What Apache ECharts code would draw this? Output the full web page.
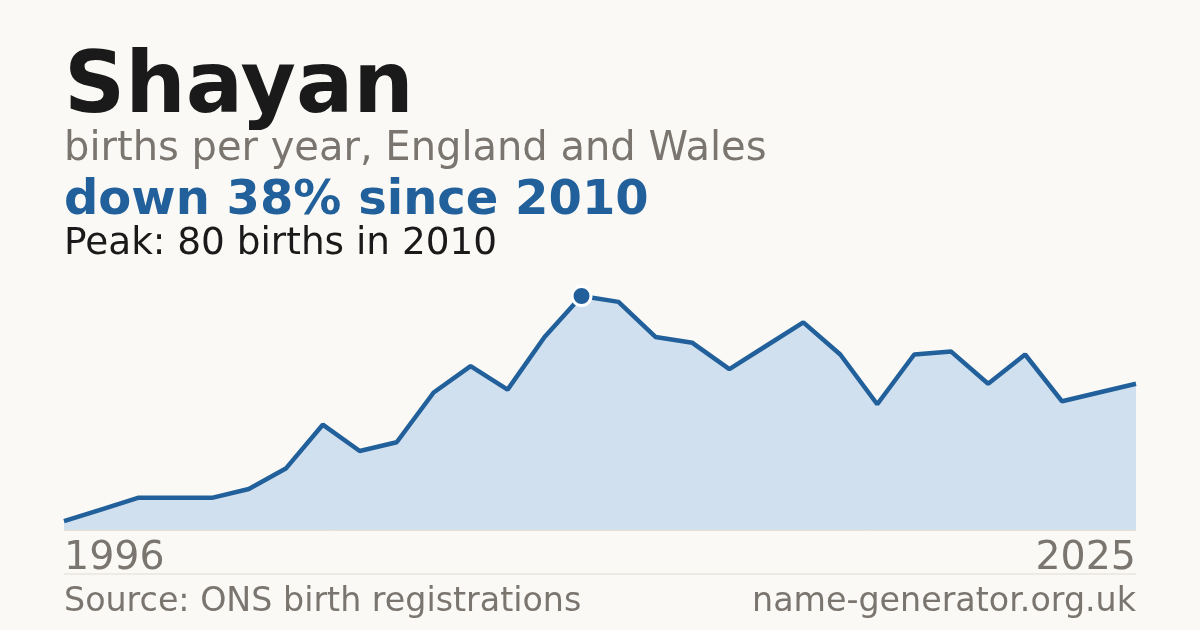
<!DOCTYPE html>
<html>
<head>
<meta charset="utf-8">
<script src="https://cdn.jsdelivr.net/npm/echarts@6/dist/echarts.min.js"></script>
<style>
	html,body{margin:0;padding:0;background:#faf9f5;}
	#chart{width:1200px;height:630px;}
</style>
</head>
<body>
<div id="chart"></div>
<script>
// data
let years = ["1996","1997","1998","1999","2000","2001","2002","2003","2004","2005",
	"2006","2007","2008","2009","2010","2011","2012","2013","2014","2015",
	"2016","2017","2018","2019","2020","2021","2022","2023","2024","2025"];
let births = [3,7,11,11,11,14,21,36,27,30,
	47,56,48,66,80,78,66,64,55,63,
	71,60,43,60,61,50,60,44,47,50];
let tickLabels = ["1996","2025"];

let fontFam = "DejaVu Sans";
let blue = "#21609a";
let grey = "#7a766f";

let peakIdx = births.indexOf(Math.max.apply(null, births));

let myChart = echarts.init(document.getElementById("chart"), null, {renderer: "canvas"});
let option = {
	backgroundColor: "#faf9f5",
	animation: false,
	title: [
		{text: "Shayan", left: 64, top: 47, padding: 0,
			textStyle: {fontFamily: fontFam, fontWeight: "bold", fontSize: 85, color: "#1a1a1a"}},
		{text: "births per year, England and Wales", left: 64, top: 130, padding: 0,
			textStyle: {fontFamily: fontFam, fontWeight: "normal", fontSize: 40, color: grey}},
		{text: "down 38% since 2010", left: 64, top: 178, padding: 0,
			textStyle: {fontFamily: fontFam, fontWeight: "bold", fontSize: 48, color: blue}},
		{text: "Peak: 80 births in 2010", left: 64, top: 226, padding: 0,
			textStyle: {fontFamily: fontFam, fontWeight: "normal", fontSize: 37.4, color: "#1a1a1a"}},
		{text: "Source: ONS birth registrations", left: 64, top: 586, padding: 0,
			textStyle: {fontFamily: fontFam, fontWeight: "normal", fontSize: 33.3, color: grey}},
		{text: "name-generator.org.uk", right: 64, top: 586, padding: 0,
			textStyle: {fontFamily: fontFam, fontWeight: "normal", fontSize: 33.3, color: grey}}
	],
	grid: {left: 64, right: 64, top: 296, bottom: 100},
	xAxis: {
		type: "category",
		data: years,
		boundaryGap: false,
		axisLine: {show: true, lineStyle: {color: "#e6e0d4", width: 1}},
		axisTick: {show: false},
		axisLabel: {
			show: true,
			margin: 9,
			fontFamily: fontFam,
			fontSize: 39.5,
			color: grey,
			interval: 0,
			alignMinLabel: "left",
			alignMaxLabel: "right",
			formatter: function(v) {
				return tickLabels.indexOf(v) >= 0 ? v : "";
			}
		}
	},
	yAxis: {
		type: "value",
		min: 0,
		max: 80,
		show: false,
		splitLine: {show: false}
	},
	series: [{
		type: "line",
		data: births,
		lineStyle: {color: blue, width: 4.5},
		areaStyle: {color: "#d0e0ef", opacity: 1},
		symbol: "circle",
		symbolSize: function(v, p) {
			return p.dataIndex === peakIdx ? 19 : 0;
		},
		showAllSymbol: true,
		itemStyle: {color: blue, borderColor: "#ffffff", borderWidth: 3},
		z: 3
	}],
	graphic: [{
		type: "line",
		shape: {x1: 64, y1: 574, x2: 1136, y2: 574},
		style: {stroke: "#e0dcd4", lineWidth: 1}
	}]
};
myChart.setOption(option);
</script>
</body>
</html>
